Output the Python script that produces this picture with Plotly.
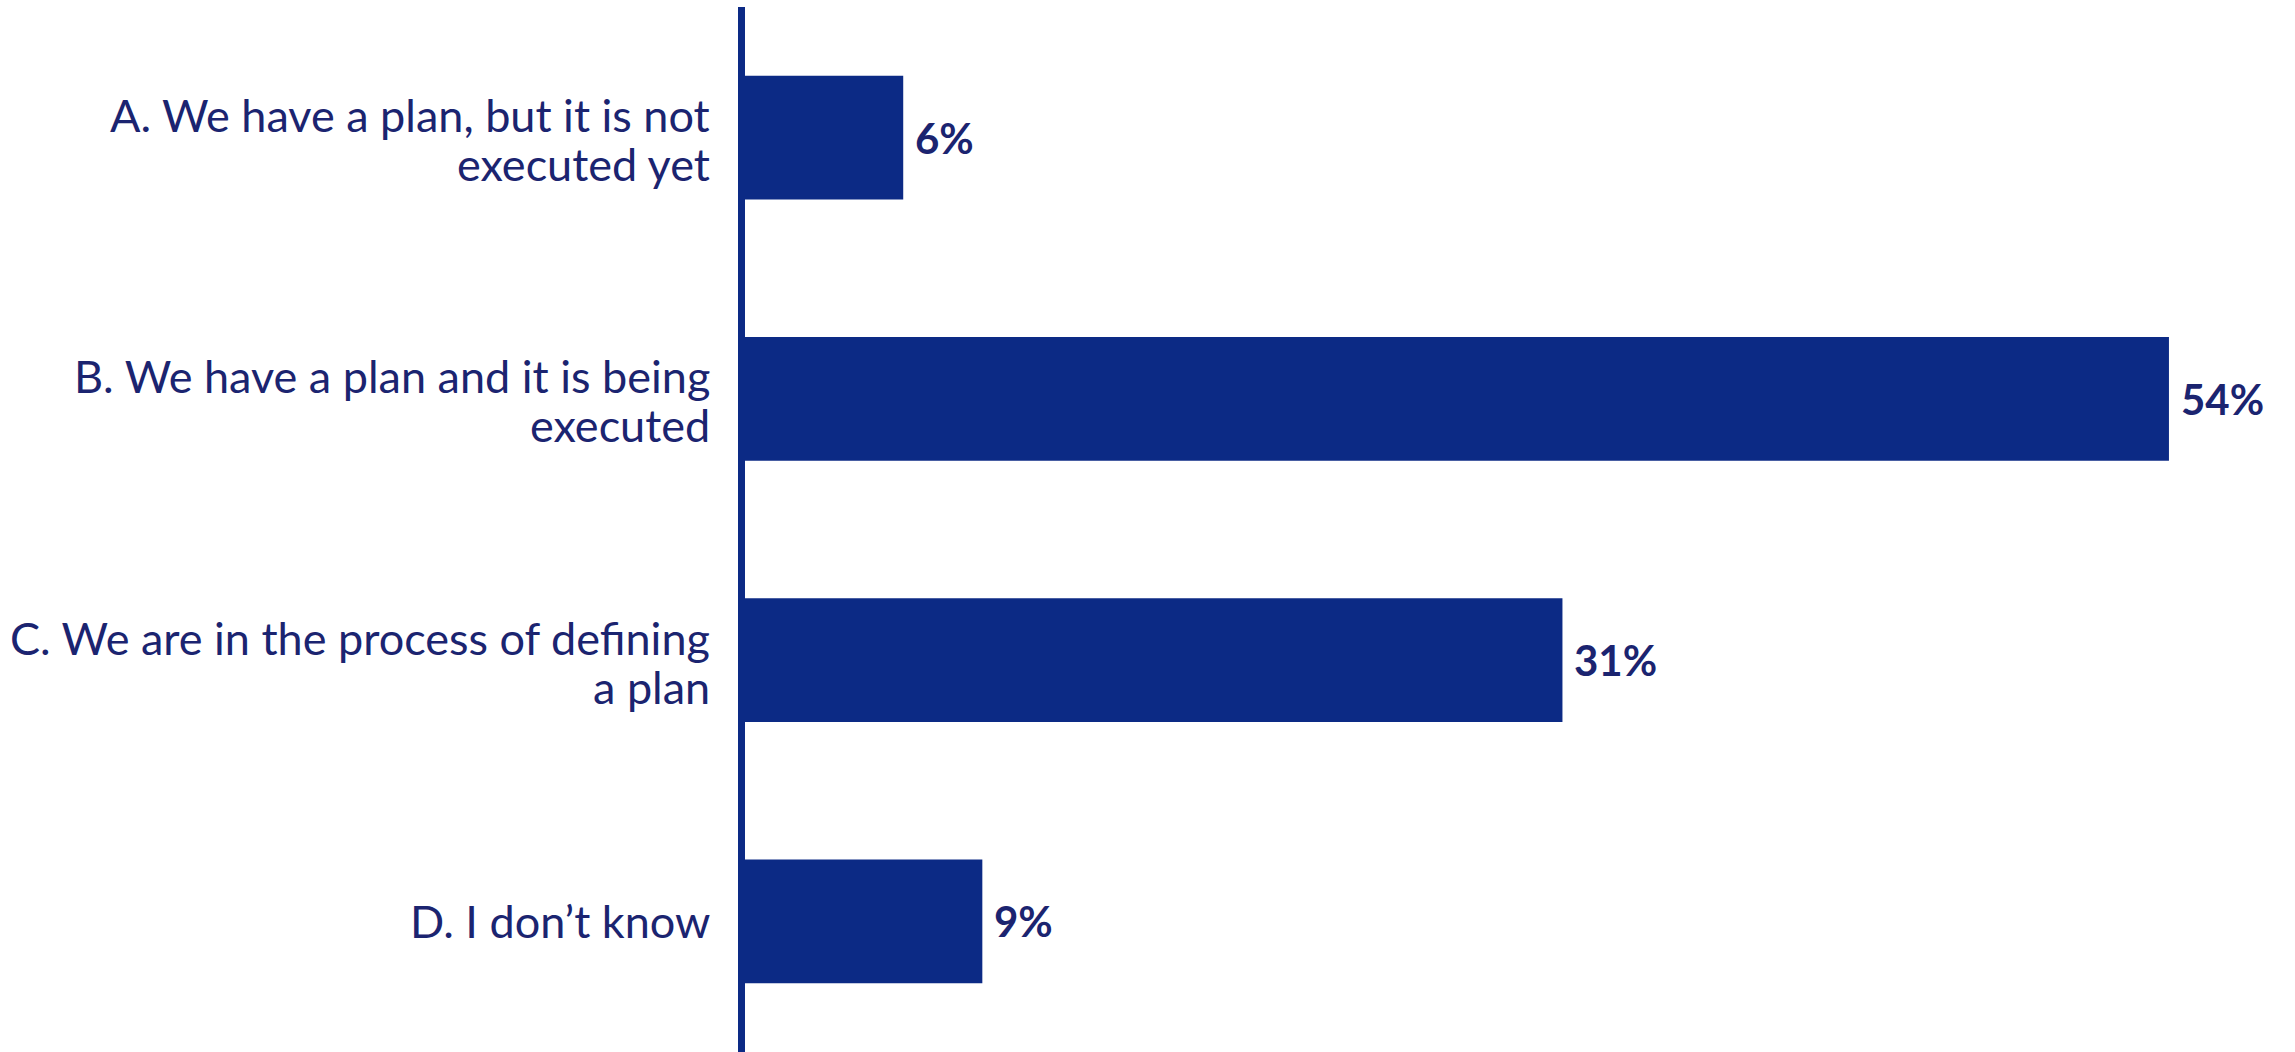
import plotly.graph_objects as go

categories = [
    "A. We have a plan, but it is not<br>executed yet",
    "B. We have a plan and it is being<br>executed",
    "C. We are in the process of defining<br>a plan",
    "D. I don\u2019t know",
]
values = [6, 54, 31, 9]
value_labels = ["6%", "54%", "31%", "9%"]

BAR = "#0c2a85"
TXT = "#1b2470"
FS = 45
LINE_GAP = 49  # px between the two lines of a category label

fig = go.Figure(
    go.Bar(
        x=values,
        y=categories,
        orientation="h",
        marker=dict(color=BAR, line=dict(width=0)),
        hoverinfo="skip",
    )
)

# value labels
for v, lab, cat in zip(values, value_labels, categories):
    fig.add_annotation(
        x=v, y=cat, text=lab, showarrow=False,
        xanchor="left", yanchor="middle", xshift=10,
        font=dict(family="Lato", size=42, color=TXT, weight="bold"),
    )

# category labels (drawn line by line for tighter line spacing)
for cat in categories:
    lines = cat.split("<br>")
    n = len(lines)
    for i, ln in enumerate(lines):
        shift = ((n - 1) / 2 - i) * LINE_GAP - (2 if n > 1 else 0)
        fig.add_annotation(
            xref="paper", x=0, y=cat, text=ln, showarrow=False,
            xanchor="right", yanchor="middle", xshift=-33, yshift=shift,
            font=dict(family="Lato", size=FS, color=TXT),
        )

fig.update_layout(
    width=2295, height=1052,
    margin=dict(l=745, r=0, t=7, b=0),
    paper_bgcolor="white", plot_bgcolor="white",
    bargap=0.527,
    showlegend=False,
    xaxis=dict(range=[0, 58.78], visible=False, fixedrange=True),
    yaxis=dict(
        autorange="reversed",
        showline=True, linewidth=7, linecolor=BAR,
        showgrid=False, zeroline=False,
        ticks="", showticklabels=False,
    ),
)

fig.write_html("out.html")
